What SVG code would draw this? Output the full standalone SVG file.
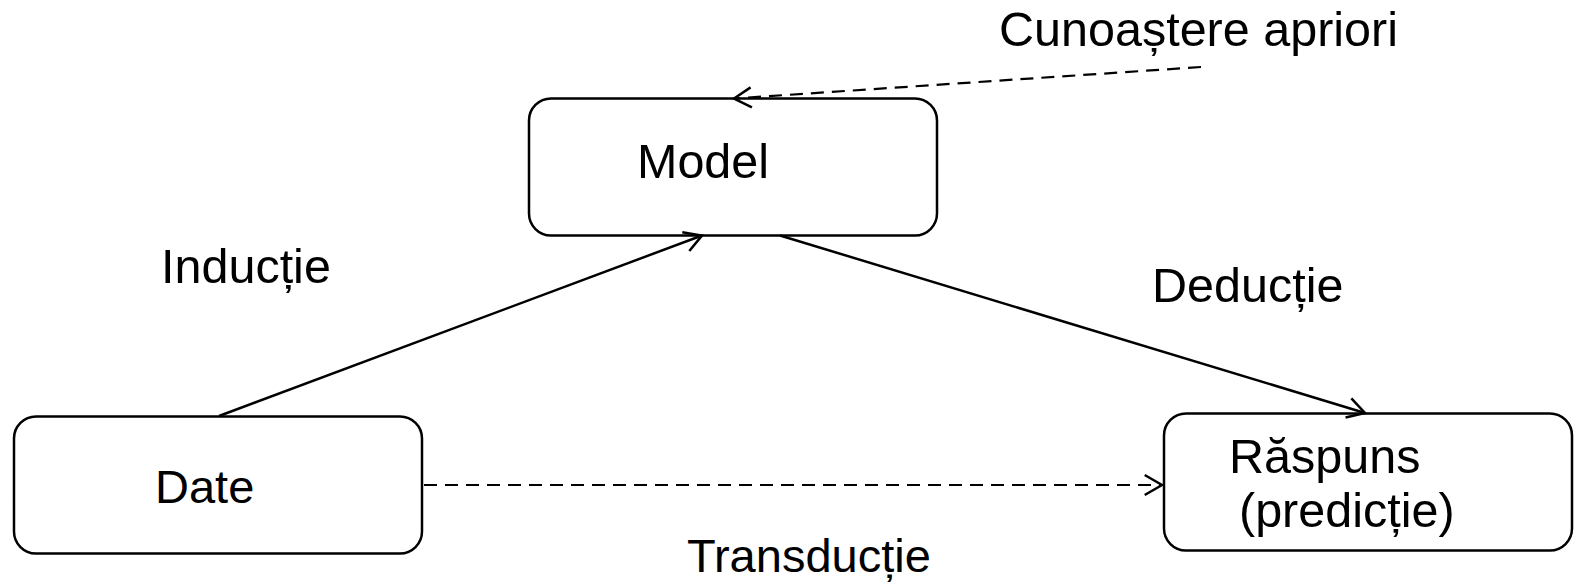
<svg xmlns="http://www.w3.org/2000/svg" width="1577" height="583" viewBox="0 0 1577 583">
<style>
.box{fill:#fff;stroke:#000;stroke-width:2.5}
.lbl{font-family:"Liberation Sans",Arial,sans-serif;font-size:48.5px;fill:#000}
.sm{font-size:47px}
.edge{fill:none;stroke:#000;stroke-width:2.5}
.dash{stroke-dasharray:13 8;stroke-width:2.2}
</style>
<defs>
<marker id="arr" markerUnits="userSpaceOnUse" viewBox="-20 -12 22 24" refX="0" refY="0" markerWidth="22" markerHeight="24" orient="auto" overflow="visible">
<path d="M -17.3 -10 L 0 0 L -17.3 10" fill="none" stroke="#000" stroke-width="2.5"/>
</marker>
</defs>
<rect width="1577" height="583" fill="#fff"/>
<g id="node-model">
<rect class="box" x="529" y="98.5" width="408" height="137" rx="22"/>
<text class="lbl" x="637" y="178">Model</text>
</g>
<g id="node-date">
<rect class="box" x="14" y="416.5" width="408" height="137" rx="22"/>
<text class="lbl sm" x="155" y="503">Date</text>
</g>
<g id="node-raspuns">
<rect class="box" x="1164" y="413.5" width="408" height="137" rx="22"/>
<text class="lbl" x="1229" y="473">Răspuns</text>
<text class="lbl" x="1239" y="527">(predicție)</text>
</g>
<g id="labels">
<text class="lbl" x="999" y="46">Cunoaștere apriori</text>
<text class="lbl" x="161" y="283">Inducție</text>
<text class="lbl" x="1152" y="302">Deducție</text>
<text class="lbl sm" x="687" y="572">Transducție</text>
</g>
<g id="connectors">
<line class="edge" x1="219" y1="416" x2="702" y2="235.5" marker-end="url(#arr)"/>
<line class="edge" x1="780" y1="235.5" x2="1365" y2="413" marker-end="url(#arr)"/>
<line class="edge dash" x1="424" y1="485" x2="1162" y2="485" marker-end="url(#arr)"/>
<line class="edge dash" x1="1201" y1="67" x2="734" y2="98.5" marker-end="url(#arr)"/>
</g>
</svg>
